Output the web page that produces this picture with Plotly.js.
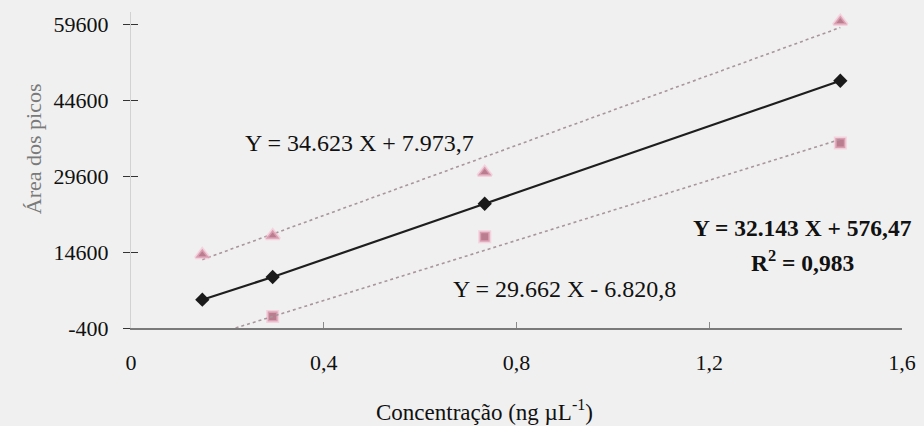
<!DOCTYPE html>
<html>
<head>
<meta charset="utf-8">
<script src="https://cdn.plot.ly/plotly-3.0.1.min.js"></script>
<style>html,body{margin:0;padding:0;background:#f0f0f0;}#chart{width:924px;height:426px;}</style>
</head>
<body>
<div id="chart"></div>
<script>
// Concentration (ng µL-1) of the calibration points
var xConc = [0.148, 0.294, 0.734, 1.472];
// Mean curve (black diamonds)
var areaMedia = [5190, 9670, 24140, 48420];
// Upper curve (pink triangles)
var areaTri = [14070, 17820, 30320, 60120];
// Lower curve (pink squares)
var xSq = [0.294, 0.734, 1.472];
var areaSq = [1890, 17620, 36120];
// Trend lines (end points)
var triTrendX = [0.148, 1.472];
var triTrendY = [13100, 58940];
var sqTrendX = [0.217, 1.472];
var sqTrendY = [-400, 36840];
// Axis ticks
var yTicks = [-400, 14600, 29600, 44600, 59600];
var yTickText = ['-400', '14600', '29600', '44600', '59600'];
var xTicks = [0, 0.4, 0.8, 1.2, 1.6];
var xTickText = ['0', '0,4', '0,8', '1,2', '1,6'];
// Titles and equation labels
var xTitle = 'Concentração (ng µL<sup>-1</sup>)';
var yTitle = 'Área dos picos';
var eqTri = 'Y = 34.623 X + 7.973,7';
var eqSq = 'Y = 29.662 X - 6.820,8';
var eqMedia = '<b>Y = 32.143 X + 576,47</b>';
var eqR2 = '<b>R<sup>2</sup> = 0,983</b>';

var pink = '#b97d8f';
var glow = 'rgba(245,185,205,0.55)';
var FONT = 'Liberation Serif';

var traces = [
  {x: triTrendX, y: triTrendY, mode: 'lines', line: {color: '#a8969c', width: 1.6, dash: 'dot'}, showlegend: false, hoverinfo: 'skip'},
  {x: sqTrendX, y: sqTrendY, mode: 'lines', line: {color: '#a8969c', width: 1.6, dash: 'dot'}, showlegend: false, hoverinfo: 'skip', yaxis: 'y2'},
  {x: xConc, y: areaMedia, mode: 'lines+markers', line: {color: '#1e1e1e', width: 2.2},
   marker: {symbol: 'diamond', size: 11, color: '#1a1a1a'}, showlegend: false, cliponaxis: false},
  {x: xConc, y: areaTri, mode: 'markers', marker: {symbol: 'triangle-up', size: 12, color: pink, line: {color: glow, width: 3}}, showlegend: false, cliponaxis: false},
  {x: xSq, y: areaSq, mode: 'markers', marker: {symbol: 'square', size: 10, color: pink, line: {color: glow, width: 3}}, showlegend: false, cliponaxis: false}
];

var layout = {
  width: 924, height: 426,
  paper_bgcolor: '#f0f0f0', plot_bgcolor: '#f0f0f0',
  margin: {l: 131, r: 22, t: 12, b: 98},
  font: {family: FONT, size: 21, color: '#111'},
  xaxis: {
    range: [0, 1.6], tickvals: xTicks, ticktext: xTickText,
    showgrid: false, zeroline: false, showline: true, linecolor: '#7a7a7a', linewidth: 1.6,
    ticks: 'inside', ticklen: 6, tickcolor: '#8a8a8a', ticklabelstandoff: 14,
    tickfont: {family: FONT, size: 22, color: '#111'}
  },
  yaxis: {
    range: [-400, 62000], tickvals: yTicks, ticktext: yTickText,
    showgrid: false, zeroline: false, showline: true, linecolor: '#d2d2d2', linewidth: 1,
    ticks: 'outside', ticklen: 7, tickcolor: '#333', ticklabelstandoff: 10,
    tickfont: {family: FONT, size: 22, color: '#111'}
  },
  yaxis2: {
    range: [-400, 62000], tickvals: yTicks, overlaying: 'y', side: 'left', anchor: 'x',
    showgrid: false, zeroline: false, showline: false, showticklabels: false,
    ticks: 'inside', ticklen: 7, tickcolor: '#333'
  },
  annotations: [
    {x: 0.458, y: -0.26, xref: 'paper', yref: 'paper', xanchor: 'center', yanchor: 'middle', text: xTitle, showarrow: false, font: {family: FONT, size: 23, color: '#111'}},
    {x: -0.127, y: 0.566, xref: 'paper', yref: 'paper', xanchor: 'center', yanchor: 'middle', text: yTitle, textangle: -90, showarrow: false, font: {family: FONT, size: 22, color: '#7a7a7a'}},
    {x: 0.475, y: 36100, xref: 'x', yref: 'y', xanchor: 'center', yanchor: 'middle', text: eqTri, showarrow: false, font: {family: FONT, size: 24, color: '#111'}},
    {x: 0.9, y: 7400, xref: 'x', yref: 'y', xanchor: 'center', yanchor: 'middle', text: eqSq, showarrow: false, font: {family: FONT, size: 24, color: '#111'}},
    {x: 1.394, y: 19400, xref: 'x', yref: 'y', xanchor: 'center', yanchor: 'middle', text: eqMedia, showarrow: false, font: {family: FONT, size: 23.5, color: '#111'}},
    {x: 1.393, y: 12900, xref: 'x', yref: 'y', xanchor: 'center', yanchor: 'middle', text: eqR2, showarrow: false, font: {family: FONT, size: 23.5, color: '#111'}}
  ]
};

Plotly.newPlot('chart', traces, layout, {displayModeBar: false, staticPlot: true});
</script>
</body>
</html>
